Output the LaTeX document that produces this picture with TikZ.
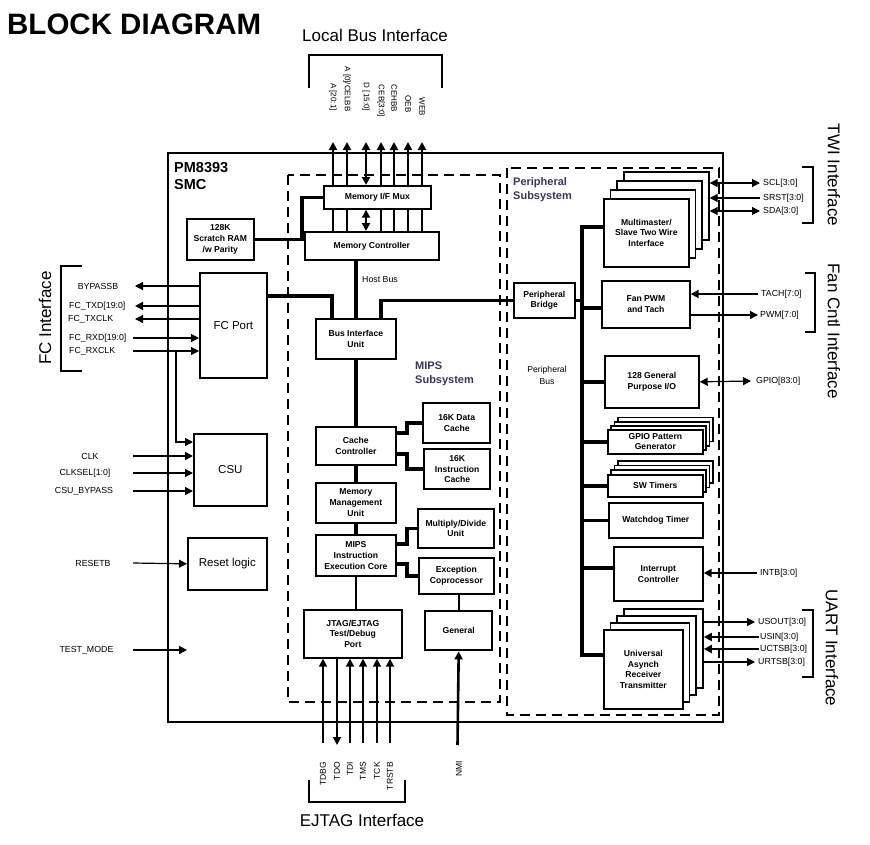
\documentclass[tikz,border=0pt]{standalone}
\usepackage{fontspec}
\setmainfont{Liberation Sans}
\usetikzlibrary{arrows.meta}
\definecolor{subsys}{RGB}{55,55,90}
\tikzset{
  blk/.style={draw,line width=1.7pt,fill=white,align=center,inner sep=0pt,anchor=north west,
    font=\fontsize{8.6}{10.8}\selectfont\bfseries},
  bigblk/.style={blk,font=\fontsize{11.5}{13}\selectfont},
  thickblk/.style={blk,line width=2.4pt},
  bus/.style={line width=3.6pt},
  sig/.style={line width=1.2pt},
  sigw/.style={line width=2.5pt},
  sigj/.style={line width=1.8pt},
  lbl/.style={font=\fontsize{8.8}{10}\selectfont,inner sep=0pt},
  vlbl/.style={font=\fontsize{8}{10}\selectfont,inner sep=0pt},
  iface/.style={font=\fontsize{17}{20}\selectfont,inner sep=0pt},
  brk/.style={line width=2pt},
  dashbox/.style={line width=2.6pt,dash pattern=on 10pt off 6pt},
  sublbl/.style={anchor=north west,inner sep=0pt,align=left,font=\fontsize{11}{14}\selectfont\bfseries,text=subsys},
}
\begin{document}
\begin{tikzpicture}[x=1pt,y=-1pt,>={Triangle[length=8pt,width=8pt]},line join=miter]
\useasboundingbox (0,0) rectangle (870,844);
% title
\node[anchor=base west,inner sep=0pt,font=\fontsize{29.5}{32}\selectfont\bfseries] (title) at (7,34) {BLOCK DIAGRAM};
% interface labels
\node[iface] (lbiface) at (375,35) {Local Bus Interface};
\node[iface,rotate=90] (fciface) at (45,318) {FC Interface};
\node[iface] (ejiface) at (362,820) {EJTAG Interface};
\node[iface,rotate=-90] (twiiface) at (834,175) {TWI Interface};
\node[iface,rotate=-90] (faniface) at (834,331) {Fan Cntl Interface};
\node[iface,rotate=-90] (uartiface) at (832,648) {UART Interface};
% brackets
\draw[brk] (309,88) -- (309,55) -- (442,55) -- (442,88);
\draw[brk] (82,266) -- (61,266) -- (61,371) -- (82,371);
\draw[brk] (309,780) -- (309,802) -- (405,802) -- (405,780);
\draw[brk] (802,167) -- (813,167) -- (813,223) -- (802,223);
\draw[brk] (805,273) -- (815,273) -- (815,332) -- (805,332);
\draw[brk] (802,610) -- (813,610) -- (813,677) -- (802,677);
% chip and subsystems
\draw[line width=2.4pt] (168,153) rectangle (723,722);
\node[anchor=north west,inner sep=0pt,align=left,font=\fontsize{14.5}{17}\selectfont\bfseries] (chip) at (174,162) {PM8393\\SMC};
\draw[dashbox] (288,175) rectangle (500,702);
\draw[dashbox] (507,168) rectangle (719,715);
\node[sublbl] (mipslbl) at (415,362) {MIPS\\Subsystem};
\node[sublbl] (perlbl) at (513,177) {Peripheral\\Subsystem};
\node[lbl,anchor=west] (hostbus) at (362,280) {Host Bus};
\node[lbl,align=center,font=\fontsize{8.6}{12}\selectfont] (perbus) at (547,375) {Peripheral\\Bus};

% ---------- boxes (drawn first as named nodes; connectors below go behind via layers) ----------
\begin{scope}[on background layer/.style={}]
\end{scope}

% coordinates for external signals
\coordinate (tA) at (333,142);
\coordinate (tA0) at (347,142);
\coordinate (tD) at (366,142);
\coordinate (tCEB) at (381,142);
\coordinate (tCEHB) at (394,142);
\coordinate (tOEB) at (408,142);
\coordinate (tWEB) at (422,142);

\coordinate (byp) at (135,286);
\coordinate (txd) at (135,306);
\coordinate (txclk) at (135,319);
\coordinate (rxd) at (133,338);
\coordinate (rxclk) at (133,351);
\coordinate (rxbr) at (176,351);
\coordinate (clk) at (133,456);
\coordinate (clksel) at (133,473);
\coordinate (csubyp) at (133,491);
\coordinate (rstb) at (133,563);
\coordinate (tm0) at (133,650);
\coordinate (tm1) at (187,650);

\coordinate (bTDBG) at (323,743);
\coordinate (bTDO) at (337,745);
\coordinate (bTDI) at (350,743);
\coordinate (bTMS) at (363,743);
\coordinate (bTCK) at (377,743);
\coordinate (bTRSTB) at (390,743);
\coordinate (bNMI) at (457.5,745);

\coordinate (scl) at (760,183);
\coordinate (srst) at (760,198);
\coordinate (sda) at (760,211);
\coordinate (tach) at (758,294);
\coordinate (pwm) at (758,315);
\coordinate (gpior) at (751,381);
\coordinate (intb) at (757,573);
\coordinate (usout) at (755,622);
\coordinate (usin) at (759,637);
\coordinate (uctsb) at (759,649);
\coordinate (urtsb) at (755,662);

\coordinate (pbb) at (582,655);
\coordinate (fanb) at (582,308);
\coordinate (intcb) at (582,568);

% ---------- connectors (drawn before boxes so boxes cover them) ----------
% local bus lines from memory controller
\draw[sigw,->] (333,231) -- (tA);
\draw[sigw,->] (347,231) -- (tA0);
\draw[sigw,->] (381,231) -- (tCEB);
\draw[sigw,->] (394,231) -- (tCEHB);
\draw[sigw,->] (408,231) -- (tOEB);
\draw[sigw,->] (422,231) -- (tWEB);

% boxes
\node[blk,minimum width=107pt,minimum height=23pt] (mux) at (323,185) {Memory I/F Mux};
\node[blk,minimum width=134pt,minimum height=28pt] (ctrl) at (304,231) {Memory Controller};
\node[blk,minimum width=67pt,minimum height=41pt] (ram) at (186,218) {128K\\Scratch RAM\\/w Parity};
\node[bigblk,minimum width=67pt,minimum height=105pt] (fc) at (199,272) {FC Port};
\node[blk,minimum width=80pt,minimum height=40pt] (biu) at (315,318) {Bus Interface\\Unit};
\node[blk,minimum width=61pt,minimum height=35pt] (bridge) at (513,282) {Peripheral\\Bridge};
\node[bigblk,minimum width=73pt,minimum height=72pt] (csu) at (193,433) {CSU};
\node[bigblk,minimum width=79pt,minimum height=52pt] (reset) at (187,537) {Reset logic};
\node[blk,minimum width=80pt,minimum height=38pt] (cache) at (315,426) {Cache\\Controller};
\node[thickblk,minimum width=67pt,minimum height=40pt] (dcache) at (422,402) {16K Data\\Cache};
\node[thickblk,minimum width=66pt,minimum height=40pt] (icache) at (423,448) {16K\\Instruction\\Cache};
\node[blk,minimum width=80pt,minimum height=40pt] (mmu) at (315,482) {Memory\\Management\\Unit};
\node[blk,minimum width=80pt,minimum height=41pt] (core) at (315,534) {MIPS\\Instruction\\Execution Core};
\node[blk,minimum width=76pt,minimum height=39pt] (muldiv) at (417,508) {Multiply/Divide\\Unit};
\node[blk,minimum width=75pt,minimum height=36pt] (exc) at (418,557) {Exception\\Coprocessor};
\node[thickblk,minimum width=67pt,minimum height=39pt] (general) at (424,610) {General};
\node[blk,minimum width=98pt,minimum height=48pt] (jtag) at (303,609) {JTAG/EJTAG\\Test/Debug\\Port};

% TWI stack
\node[blk,minimum width=85pt,minimum height=68pt] (twi4) at (623,171) {};
\node[blk,minimum width=85pt,minimum height=68pt] (twi3) at (616.3,180) {};
\node[blk,minimum width=85pt,minimum height=68pt] (twi2) at (609.7,189) {};
\node[blk,minimum width=85pt,minimum height=68pt] (twi) at (603,198) {Multimaster/\\Slave Two Wire\\Interface};
\node[blk,minimum width=88pt,minimum height=47pt] (fan) at (601,280) {Fan PWM\\and Tach};
\node[blk,minimum width=94pt,minimum height=52pt] (gpio) at (604,355) {128 General\\Purpose I/O};
% GPIO pattern stack
\node[blk,minimum width=95pt,minimum height=24pt] (gpiopat4) at (616.9,416.7) {};
\node[blk,minimum width=95pt,minimum height=24pt] (gpiopat3) at (613.6,420.8) {};
\node[blk,minimum width=95pt,minimum height=24pt] (gpiopat2) at (610.3,424.9) {};
\node[blk,minimum width=95pt,minimum height=24pt,font=\fontsize{8.6}{10}\selectfont\bfseries] (gpiopat) at (607,429) {GPIO Pattern\\Generator};
% SW timers stack
\node[blk,minimum width=95pt,minimum height=22pt] (swt4) at (616.9,459.9) {};
\node[blk,minimum width=95pt,minimum height=22pt] (swt3) at (613.6,464.6) {};
\node[blk,minimum width=95pt,minimum height=22pt] (swt2) at (610.3,469.3) {};
\node[blk,minimum width=95pt,minimum height=22pt] (swt) at (607,474) {SW Timers};
\node[blk,minimum width=94pt,minimum height=35pt] (wdt) at (608,502) {Watchdog Timer};
\node[blk,minimum width=89pt,minimum height=54pt] (intc) at (613,546) {Interrupt\\Controller};
% UART stack
\node[blk,minimum width=79pt,minimum height=79pt] (uart4) at (623.1,608) {};
\node[blk,minimum width=79pt,minimum height=79pt] (uart3) at (616.4,615) {};
\node[blk,minimum width=79pt,minimum height=79pt] (uart2) at (609.7,622) {};
\node[blk,minimum width=79pt,minimum height=79pt] (uart) at (603,629) {Universal\\Asynch\\Receiver\\Transmitter};

% data bus D and mux/controller link
\draw[sigw,<->] (mux.north -| tD) -- (tD);
\draw[sigw,<->] (mux.south -| tD) -- (ctrl.north -| tD);

% internal buses
\draw[bus] (ram.east) -- ++(47,0) |- (mux.west);
\draw[bus] ([yshift=-24pt]fc.north east) -| ([xshift=17pt]biu.north west);
\draw[bus] (ctrl.south -| biu.north) -- (biu.north);
\draw[bus] ([xshift=-16pt]biu.north east) |- (bridge.west);
\draw[bus] (biu.south) -- (cache.north);
\draw[bus] (cache.south) -- (mmu.north);
\draw[bus] (mmu.south) -- (core.north);
\draw[line width=1.5pt] (core.south) -- (core.south |- jtag.north);
\draw[bus] ([yshift=-7pt]cache.north east) -- ++(10,0) |- (dcache.west);
\draw[bus] ([yshift=-28pt]cache.north east) -- ++(10,0) |- (icache.west);
\draw[bus] ([yshift=-10pt]core.north east) -- ++(10,0) |- (muldiv.west);
\draw[bus] ([yshift=-30pt]core.north east) -- ++(10,0) |- (exc.west);
\draw[line width=2.4pt] (exc.south -| general.north) -- (general.north);

% peripheral bus
\draw[bus] ([yshift=-29pt]twi.north west) -| (pbb) -- (uart.west |- pbb);
\draw[bus] (bridge.east) -- (bridge.east -| pbb);
\draw[bus] (fanb) -- (fan.west |- fanb);
\draw[bus] (gpio.west -| pbb) -- (gpio.west);
\draw[bus] (gpiopat.west -| pbb) -- (gpiopat.west);
\draw[bus] (swt.west -| pbb) -- (swt.west);
\draw[bus] (wdt.west -| pbb) -- (wdt.west);
\draw[bus] (intcb) -- (intc.west |- intcb);

% left signals
\draw[sig,->] (fc.west |- byp) -- (byp);
\draw[sigw,->] (fc.west |- txd) -- (txd);
\draw[sig,->] (fc.west |- txclk) -- (txclk);
\draw[sig,->] (rxd) -- (fc.west |- rxd);
\draw[sig,->] (rxclk) -- (fc.west |- rxclk);
\draw[sig,->] (rxbr) |- ([yshift=-9pt]csu.north west);
\draw[sigw,->] (clk) -- (csu.west |- clk);
\draw[sig,->] (clksel) -- (csu.west |- clksel);
\draw[sig,->] (csubyp) -- (csu.west |- csubyp);
\draw[sig,->] (rstb) -- (reset.west);
\draw[sig,->] (tm0) -- (tm1);

\node[lbl] (lbyp) at (98,286) {BYPASSB};
\node[lbl,anchor=west] (ltxd) at (69,306) {FC\_TXD[19:0]};
\node[lbl,anchor=west] (ltxclk) at (68,319) {FC\_TXCLK};
\node[lbl,anchor=west] (lrxd) at (69,338) {FC\_RXD[19:0]};
\node[lbl,anchor=west] (lrxclk) at (69,351) {FC\_RXCLK};
\node[lbl] (lclk) at (90,456) {CLK};
\node[lbl] (lclksel) at (85,473) {CLKSEL[1:0]};
\node[lbl] (lcsubyp) at (84,491) {CSU\_BYPASS};
\node[lbl] (lrstb) at (93,563) {RESETB};
\node[lbl] (ltm) at (86.5,650) {TEST\_MODE};

% top labels
\node[vlbl,rotate=-90] (lA) at (333,97) {A [20:1]};
\node[vlbl,rotate=-90] (lA0) at (347,89) {A [0]/CELBB};
\node[vlbl,rotate=-90] (lD) at (366,97) {D [15:0]};
\node[vlbl,rotate=-90] (lCEB) at (381,101) {CEB[3:0]};
\node[vlbl,rotate=-90] (lCEHB) at (394,98.5) {CEHBB};
\node[vlbl,rotate=-90] (lOEB) at (408,104) {OEB};
\node[vlbl,rotate=-90] (lWEB) at (422,107) {WEB};

% bottom signals
\draw[sigj,->] (bTDBG) -- (jtag.south -| bTDBG);
\draw[sigj,->] (jtag.south -| bTDO) -- (bTDO);
\draw[sigj,->] (bTDI) -- (jtag.south -| bTDI);
\draw[sigj,->] (bTMS) -- (jtag.south -| bTMS);
\draw[sigj,->] (bTCK) -- (jtag.south -| bTCK);
\draw[sigj,->] (bTRSTB) -- (jtag.south -| bTRSTB);
\draw[line width=2.6pt,->] (bNMI) -- (general.south);

\node[vlbl,rotate=90,anchor=east,font=\fontsize{8.5}{10}\selectfont] (lTDBG) at (323,762) {TDBG};
\node[vlbl,rotate=90,anchor=east,font=\fontsize{8.5}{10}\selectfont] (lTDO) at (337,762) {TDO};
\node[vlbl,rotate=90,anchor=east,font=\fontsize{8.5}{10}\selectfont] (lTDI) at (350,762) {TDI};
\node[vlbl,rotate=90,anchor=east,font=\fontsize{8.5}{10}\selectfont] (lTMS) at (363,762) {TMS};
\node[vlbl,rotate=90,anchor=east,font=\fontsize{8.5}{10}\selectfont] (lTCK) at (377,762) {TCK};
\node[vlbl,rotate=90,anchor=east,font=\fontsize{8.5}{10}\selectfont] (lTRSTB) at (390,762) {TRSTB};
\node[vlbl,rotate=90,anchor=east,font=\fontsize{8.5}{10}\selectfont] (lNMI) at (459,761) {NMI};

% right signals
\draw[sig,<->] (twi4.east |- scl) -- (scl);
\draw[sig,->] (srst) -- (twi4.east |- srst);
\draw[sig,<->] (twi4.east |- sda) -- (sda);
\draw[sigw,->] (tach) -- (fan.east |- tach);
\draw[sig,->] (fan.east |- pwm) -- (pwm);
\draw[sig,<->] (gpio.east) -- (gpior);
\draw[sigw,->] (intb) -- (intc.east |- intb);
\draw[sig,->] (uart4.east |- usout) -- (usout);
\draw[sigw,->] (usin) -- (uart4.east |- usin);
\draw[sigw,->] (uctsb) -- (uart4.east |- uctsb);
\draw[sig,->] (uart4.east |- urtsb) -- (urtsb);

\node[lbl,anchor=west] (lscl) at (763,183) {SCL[3:0]};
\node[lbl,anchor=west] (lsrst) at (763,198) {SRST[3:0]};
\node[lbl,anchor=west] (lsda) at (763,211) {SDA[3:0]};
\node[lbl,anchor=west] (ltach) at (761,294) {TACH[7:0]};
\node[lbl,anchor=west] (lpwm) at (760,315) {PWM[7:0]};
\node[lbl,anchor=west] (lgpio) at (756,381) {GPIO[83:0]};
\node[lbl,anchor=west] (lintb) at (760,573) {INTB[3:0]};
\node[lbl,anchor=west] (lusout) at (758,622) {USOUT[3:0]};
\node[lbl,anchor=west] (lusin) at (760,637) {USIN[3:0]};
\node[lbl,anchor=west] (luctsb) at (760,649) {UCTSB[3:0]};
\node[lbl,anchor=west] (lurtsb) at (758,662) {URTSB[3:0]};
\end{tikzpicture}
\end{document}
